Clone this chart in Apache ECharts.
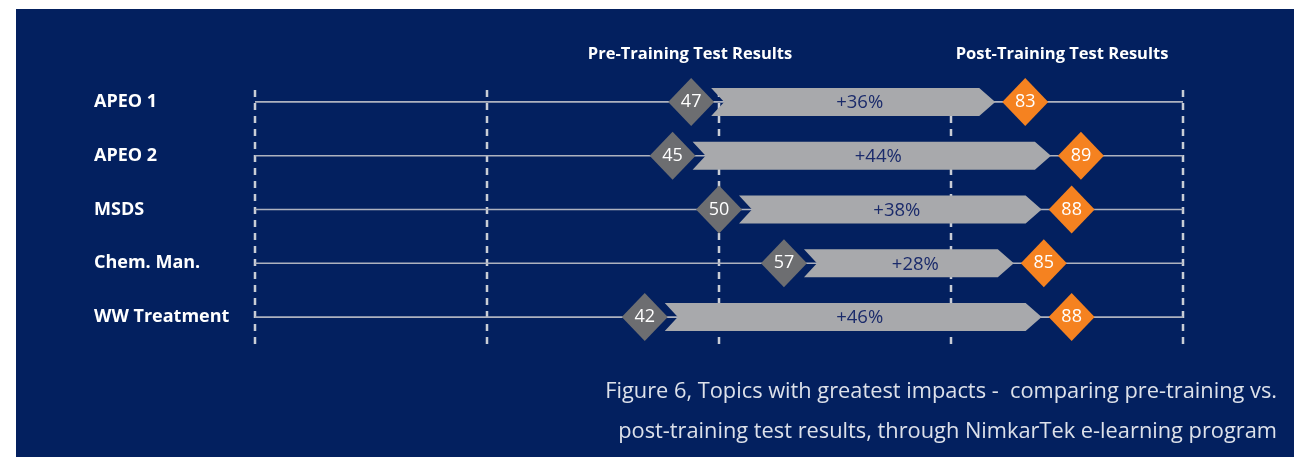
<!DOCTYPE html>
<html>
<head>
<meta charset="utf-8">
<script src="https://cdn.jsdelivr.net/npm/echarts@6/dist/echarts.min.js"></script>
<style>
  html, body { margin: 0; padding: 0; background: #ffffff; }
  #chart { width: 1294px; height: 457px; }
</style>
</head>
<body>
<div id="chart"></div>
<script>
// ---- data ----
const categories = ['APEO 1', 'APEO 2', 'MSDS', 'Chem. Man.', 'WW Treatment'];
const preScores  = [47, 45, 50, 57, 42];
const postScores = [83, 89, 88, 85, 88];
const gainLabels = ['+36%', '+44%', '+38%', '+28%', '+46%'];
const xTicks     = [0, 25, 50, 75, 100];
const headerTexts = ['Pre-Training Test Results', 'Post-Training Test Results'];
const captionLines = [
  'Figure 6, Topics with greatest impacts -  comparing pre-training vs.',
  'post-training test results, through NimkarTek e-learning program'
];

// ---- styles ----
const NAVY = '#03205f';
const GRID_COLOR = '#c9cdd6';
const ROW_COLOR = '#aeb2bf';
const ARROW_COLOR = '#a8a9ac';
const PRE_COLOR = '#6d6e71';
const POST_COLOR = '#f58220';
const FONT = '"Open Sans", "Noto Sans", sans-serif';
const CAPTION_FONT = '"Open Sans", "Noto Sans", sans-serif';

const chart = echarts.init(document.getElementById('chart'), null, { renderer: 'canvas' });

const option = {
  backgroundColor: '#ffffff',
  animation: false,
  grid: { left: 255, right: 111, top: 75, bottom: 113, containLabel: false },
  xAxis: {
    type: 'value', min: 0, max: 100, interval: 25,
    axisLine: { show: false }, axisTick: { show: false },
    axisLabel: { show: false }, splitLine: { show: false }
  },
  yAxis: {
    type: 'category', data: categories, inverse: true,
    axisLine: { show: false }, axisTick: { show: false }, splitLine: { show: false },
    axisLabel: {
      align: 'left', margin: 161, color: '#ffffff',
      fontFamily: FONT, fontWeight: 'bold', fontSize: 18
    }
  },
  graphic: [
    { type: 'rect', z: -10, silent: true,
      shape: { x: 16, y: 9, width: 1278, height: 448 }, style: { fill: NAVY } },
    { type: 'text', x: 690, y: 54, silent: true,
      style: { text: headerTexts[0], align: 'center', verticalAlign: 'middle',
               fill: '#ffffff', fontFamily: FONT, fontWeight: 'bold', fontSize: 16.5 } },
    { type: 'text', x: 1062, y: 54, silent: true,
      style: { text: headerTexts[1], align: 'center', verticalAlign: 'middle',
               fill: '#ffffff', fontFamily: FONT, fontWeight: 'bold', fontSize: 16.5 } },
    { type: 'text', x: 1277, y: 392, silent: true,
      style: { text: captionLines[0], align: 'right', verticalAlign: 'middle',
               fill: '#dde1ea', fontFamily: CAPTION_FONT, fontSize: 21.8 } },
    { type: 'text', x: 1277, y: 432, silent: true,
      style: { text: captionLines[1], align: 'right', verticalAlign: 'middle',
               fill: '#dde1ea', fontFamily: CAPTION_FONT, fontSize: 21.8 } }
  ],
  series: [
    // dashed vertical gridlines at each tick value
    {
      type: 'custom', z: 1, silent: true,
      data: xTicks.map(v => [v, 0]),
      encode: { x: 0, y: 1 },
      renderItem: function (params, api) {
        const top = api.coord([api.value(0), 0]);
        const bot = api.coord([api.value(0), categories.length - 1]);
        return {
          type: 'line',
          shape: { x1: top[0], y1: top[1] - 12, x2: top[0], y2: bot[1] + 31 },
          style: { stroke: GRID_COLOR, lineWidth: 2.5, lineDash: [7, 6] }
        };
      }
    },
    // thin horizontal row lines across the full scale
    {
      type: 'custom', z: 2, silent: true,
      data: categories.map((c, i) => [xTicks[0], xTicks[xTicks.length - 1], i]),
      encode: { x: [0, 1], y: 2 },
      renderItem: function (params, api) {
        const a = api.coord([api.value(0), api.value(2)]);
        const b = api.coord([api.value(1), api.value(2)]);
        return {
          type: 'line',
          shape: { x1: a[0], y1: a[1], x2: b[0], y2: b[1] },
          style: { stroke: ROW_COLOR, lineWidth: 1.6 }
        };
      }
    },
    // chevron arrows from pre to post score
    {
      type: 'custom', z: 3, silent: true,
      data: categories.map((c, i) => [preScores[i], postScores[i], i]),
      encode: { x: [0, 1], y: 2 },
      renderItem: function (params, api) {
        const idx = params.dataIndex;
        const p0 = api.coord([api.value(0), api.value(2)]);
        const p1 = api.coord([api.value(1), api.value(2)]);
        const cy = p0[1];
        const half = 14, notch = 13, tip = 16;
        const x0 = p0[0] + 20;
        const x1 = p1[0] - 30;
        return {
          type: 'group',
          children: [
            {
              type: 'polygon',
              shape: { points: [
                [x0, cy - half], [x1 - tip, cy - half], [x1, cy],
                [x1 - tip, cy + half], [x0, cy + half], [x0 + notch, cy]
              ] },
              style: { fill: ARROW_COLOR }
            },
            {
              type: 'text',
              style: {
                text: gainLabels[idx], x: (x0 + notch + x1) / 2, y: cy + 1,
                align: 'center', verticalAlign: 'middle',
                fill: '#1b2b6b', fontFamily: FONT, fontSize: 18.5
              }
            }
          ]
        };
      }
    },
    // pre-training diamonds
    {
      type: 'scatter', z: 4, silent: true,
      symbol: 'diamond', symbolSize: [46, 48],
      itemStyle: { color: PRE_COLOR, opacity: 1 },
      data: preScores.map((v, i) => [v, i]),
      label: {
        show: true, position: 'inside', color: '#ffffff',
        fontFamily: FONT, fontSize: 18,
        formatter: p => String(p.value[0])
      }
    },
    // post-training diamonds
    {
      type: 'scatter', z: 4, silent: true,
      symbol: 'diamond', symbolSize: [46, 48],
      itemStyle: { color: POST_COLOR, opacity: 1 },
      data: postScores.map((v, i) => [v, i]),
      label: {
        show: true, position: 'inside', color: '#ffffff',
        fontFamily: FONT, fontSize: 18,
        formatter: p => String(p.value[0])
      }
    }
  ]
};

chart.setOption(option);
</script>
</body>
</html>
